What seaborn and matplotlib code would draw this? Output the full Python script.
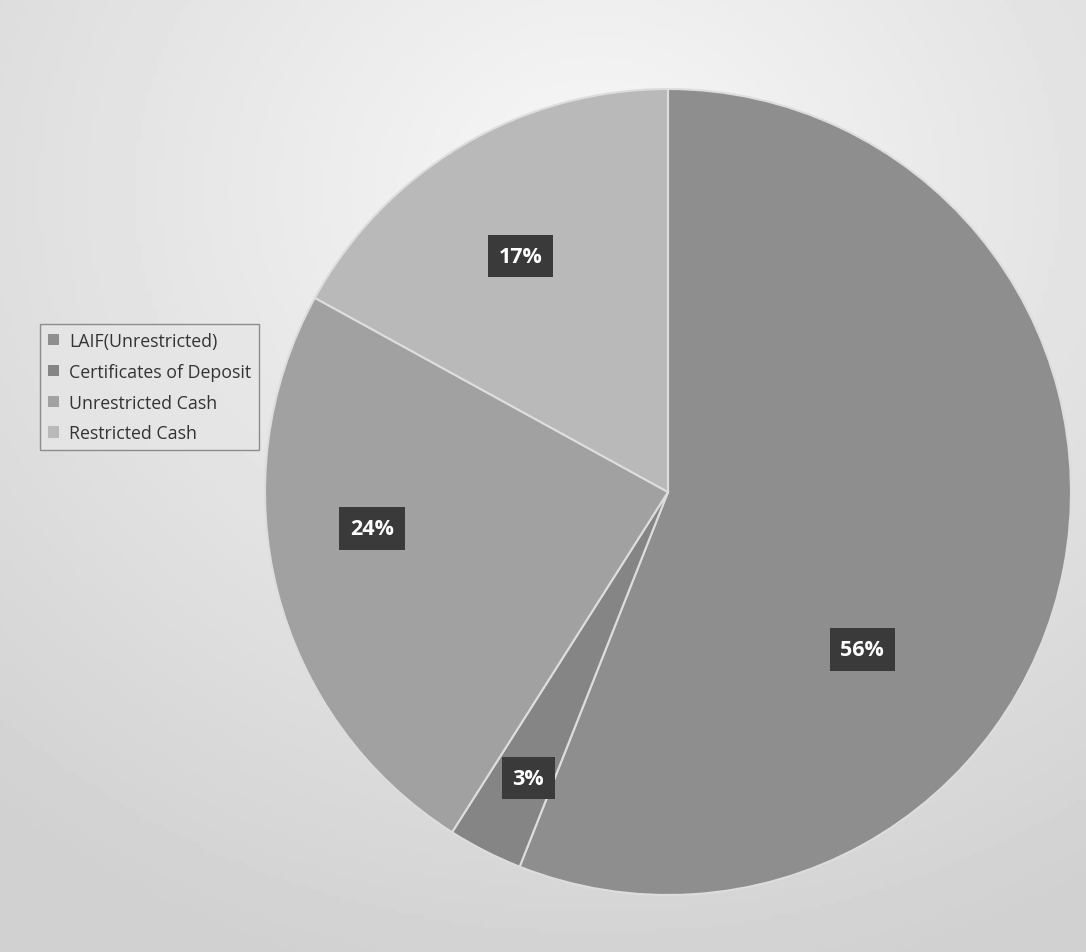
import numpy as np
import matplotlib
matplotlib.use("Agg")
import matplotlib.pyplot as plt
import seaborn as sns
from matplotlib.patches import Patch

sns.set_theme(style="white")
plt.rcParams['font.family'] = ['Open Sans', 'DejaVu Sans']

categories = ["LAIF(Unrestricted)", "Certificates of Deposit", "Unrestricted Cash", "Restricted Cash"]
values = [56, 3, 24, 17]
slice_colors = ["#8e8e8e", "#858585", "#a1a1a1", "#b9b9b9"]
# label placement (angle in degrees, radius fraction) per slice
label_angles = [-39, -116, -173, 122]
label_radii = [0.62, 0.79, 0.74, 0.69]

fig = plt.figure(figsize=(10.86, 9.53), dpi=100)
# background gradient (scanned paper look)
bg = fig.add_axes([0, 0, 1, 1])
yy, xx = np.mgrid[0:1:200j, 0:1:200j]
d = np.sqrt((xx - 0.55) ** 2 + (yy - 0.8) ** 2)
img = 0.97 - 0.15 * np.clip(d / 0.85, 0, 1)
bg.imshow(img, cmap="gray", vmin=0, vmax=1, extent=[0, 1, 0, 1], aspect="auto", origin="lower")
bg.set_axis_off()

# pie axes: center (668,493), radius ~403 px
cx, cy, r = 668, 493, 403
W, H = 1086, 953
ax = fig.add_axes([(cx - r) / W, 1 - (cy + r) / H, 2 * r / W, 2 * r / H])
ax.set_facecolor("none")
wedges, _ = ax.pie(values, colors=slice_colors, startangle=90, counterclock=False,
                   wedgeprops=dict(edgecolor="#dddddd", linewidth=1.5))
ax.set_aspect("equal")
ax.set_xlim(-1, 1)
ax.set_ylim(-1, 1)

for v, a, rr in zip(values, label_angles, label_radii):
    x = rr * np.cos(np.radians(a))
    y = rr * np.sin(np.radians(a))
    ax.text(x, y, f"{v}%", ha="center", va="center", color="white", fontsize=15.5,
            fontweight="bold",
            bbox=dict(boxstyle="square,pad=0.5", facecolor="#3a3a3a", edgecolor="none"))

handles = [Patch(facecolor=c, edgecolor="none") for c in slice_colors]
leg = fig.legend(handles, categories, loc="upper left",
                 bbox_to_anchor=(40 / W, 1 - 325 / H), fontsize=12.8,
                 frameon=True, fancybox=False, handlelength=0.6, handleheight=0.6,
                 handletextpad=0.6, labelspacing=0.72, borderpad=0.45, borderaxespad=0)
leg.get_frame().set_edgecolor("#777777")
leg.get_frame().set_facecolor("#e6e6e6")
leg.get_frame().set_linewidth(1.0)
for t in leg.get_texts():
    t.set_color("#333333")

fig.savefig("out.png", dpi=100)
